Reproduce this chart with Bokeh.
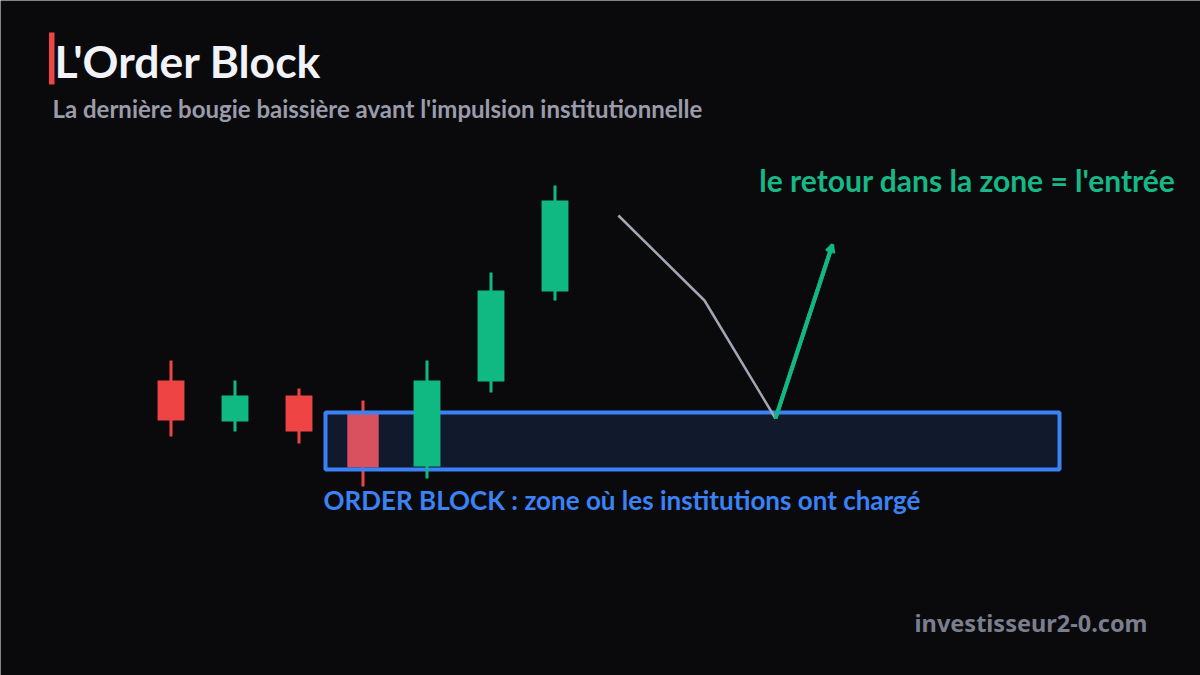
from bokeh.plotting import figure
from bokeh.models import Range1d, Label, Arrow, OpenHead, ColumnDataSource
from bokeh.embed import file_html
from bokeh.resources import INLINE

# ---- data ----
idx = [0, 1, 2, 3, 4, 5, 6]
opens = [104.0, 99.9, 102.5, 100.7, 95.4, 103.9, 112.9]
highs = [106.0, 104.0, 103.2, 102.0, 106.0, 114.8, 123.5]
lows = [98.4, 98.9, 97.7, 93.4, 94.2, 102.8, 112.0]
closes = [100.0, 102.5, 98.9, 95.3, 104.0, 113.0, 122.0]
ob_index = 3

zone_x = [2.414, 13.883]
zone_y = [95.1, 100.8]

path_x = [6.99, 8.336, 9.445]
path_y = [120.5, 112.0, 100.2]
entry_x = [9.445, 10.336]
entry_y = [100.2, 117.6]

title_text = "L'Order Block"
subtitle_text = "La dernière bougie baissière avant l'impulsion institutionnelle"
entry_label = "le retour dans la zone = l'entrée"
zone_label = "ORDER BLOCK : zone où les institutions ont chargé"
brand = "investisseur2-0.com"

# ---- styles ----
BG = "#0a0a0c"
RED = "#ef4444"
GREEN = "#10b981"
OB_RED = "#d9505f"
BLUE = "#3b82f6"

W, H = 1200, 675
p = figure(width=W, height=H, output_backend="svg", toolbar_location=None,
           x_range=Range1d(-170.5 / 64, (W - 170.5) / 64),
           y_range=Range1d(74.5, 142.0), min_border=0,
           background_fill_color=BG, border_fill_color=BG, outline_line_color=None)
p.axis.visible = False
p.grid.visible = False

colors = []
widths = []
for i in idx:
    if i == ob_index:
        colors.append(OB_RED)
        widths.append(0.49)
    else:
        colors.append(GREEN if closes[i] > opens[i] else RED)
        widths.append(0.42)

# zone fill
p.quad(left=[zone_x[0]], right=[zone_x[1]], bottom=[zone_y[0]], top=[zone_y[1]],
       fill_color="#101a2c", line_color=None)

ob_src = ColumnDataSource(dict(x=[ob_index], h=[highs[ob_index]], l=[lows[ob_index]],
                               top=[max(opens[ob_index], closes[ob_index])],
                               bot=[min(opens[ob_index], closes[ob_index])],
                               color=[OB_RED], w=[widths[ob_index]]))
p.segment(x0="x", x1="x", y0="l", y1="h", source=ob_src, line_color=RED, line_width=3)
p.vbar(x="x", width="w", top="top", bottom="bot", source=ob_src,
       fill_color="color", line_color=None)

# zone outline
p.quad(left=[zone_x[0]], right=[zone_x[1]], bottom=[zone_y[0]], top=[zone_y[1]],
       fill_color=None, line_color=BLUE, line_width=4)

rest = [i for i in idx if i != ob_index]
others = ColumnDataSource(dict(
    x=[idx[i] for i in rest],
    h=[highs[i] for i in rest],
    l=[lows[i] for i in rest],
    top=[max(opens[i], closes[i]) for i in rest],
    bot=[min(opens[i], closes[i]) for i in rest],
    color=[colors[i] for i in rest],
    w=[widths[i] for i in rest]))
p.segment(x0="x", x1="x", y0="l", y1="h", source=others, line_color="color", line_width=3)
p.vbar(x="x", width="w", top="top", bottom="bot", source=others,
       fill_color="color", line_color=None)

# pullback path
p.line(path_x, path_y, line_color="#a3a6b4", line_width=2.5)
p.line(entry_x, entry_y, line_color=GREEN, line_width=4)
p.add_layout(Arrow(end=OpenHead(size=8, line_color=GREEN, line_width=3),
                   x_start=entry_x[0], y_start=entry_y[0],
                   x_end=entry_x[1], y_end=entry_y[1], line_color=GREEN, line_width=4))

# texts
p.add_layout(Label(x=zone_x[0] - 0.03, y=zone_y[0] - 1.45, text=zone_label,
                   text_color=BLUE, text_font="Lato", text_font_size="26px",
                   text_font_style="bold", text_baseline="top", text_align="left"))
p.add_layout(Label(x=1175, y=H - 179, x_units="screen", y_units="screen", text=entry_label,
                   text_color="#17b887", text_font="Lato", text_font_size="30px",
                   text_font_style="bold", text_baseline="middle", text_align="right"))

# header
p.quad(left=[48.5 / 64 - 170.5 / 64], right=[54 / 64 - 170.5 / 64],
       top=[74.5 + (H - 32) / 10], bottom=[74.5 + (H - 84) / 10],
       fill_color=RED, line_color=None)
p.add_layout(Label(x=54, y=H - 60, x_units="screen", y_units="screen", text=title_text,
                   text_color="#f1f3f8", text_font="Lato", text_font_size="44.5px",
                   text_font_style="bold", text_baseline="middle", text_align="left"))
p.add_layout(Label(x=52, y=H - 108, x_units="screen", y_units="screen", text=subtitle_text,
                   text_color="#9a9cab", text_font="Lato", text_font_size="24px",
                   text_font_style="bold", text_baseline="middle", text_align="left"))
p.add_layout(Label(x=1147, y=H - 622, x_units="screen", y_units="screen", text=brand,
                   text_color="#7b7e8c", text_font="Noto Sans", text_font_size="23.5px",
                   text_font_style="bold", text_baseline="middle", text_align="right"))

open("out.html", "w").write(file_html(p, INLINE))
